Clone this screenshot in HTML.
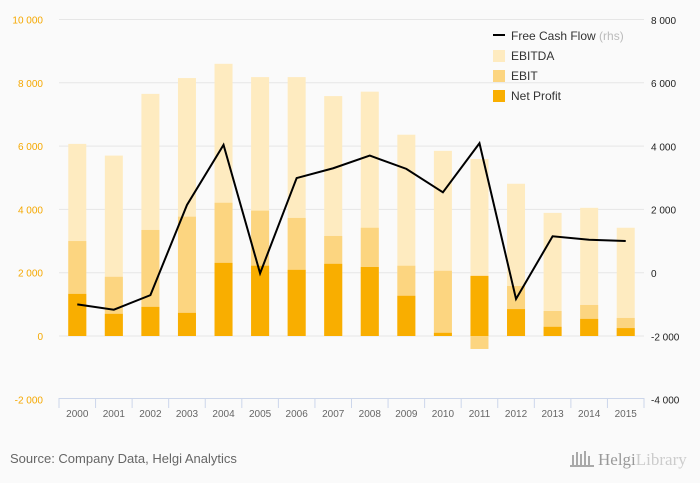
<!DOCTYPE html>
<html><head><meta charset="utf-8"><style>
body{margin:0;background:#fafafa;}
svg{display:block;font-family:"Liberation Sans",sans-serif;}
</style></head><body>
<svg id="chart" width="700" height="483" xmlns="http://www.w3.org/2000/svg">
<rect width="700" height="483" fill="#fafafa"/>
<g id="grid"></g><g id="bars"></g><g id="line"></g><g id="axes"></g>
<g>
 <line x1="493" y1="35" x2="505" y2="35" stroke="#000" stroke-width="2"/>
 <text x="511" y="40" font-size="12" fill="#333">Free Cash Flow <tspan fill="#bbb">(rhs)</tspan></text>
 <rect x="493" y="50" width="12" height="12" fill="#feebc0"/>
 <text x="511" y="60" font-size="12" fill="#333">EBITDA</text>
 <rect x="493" y="70" width="12" height="12" fill="#fcd580"/>
 <text x="511" y="80" font-size="12" fill="#333">EBIT</text>
 <rect x="493" y="90" width="12" height="12" fill="#f9ae00"/>
 <text x="511" y="100" font-size="12" fill="#333">Net Profit</text>
</g>
<text x="10" y="463" font-size="13" fill="#666">Source: Company Data, Helgi Analytics</text>
<text x="598" y="465" font-size="17" font-family="Liberation Serif,serif" fill="#999">Helgi<tspan fill="#ccc">Library</tspan></text>
<g fill="#aaa"><rect x="572" y="455" width="2" height="10"/><rect x="576" y="452" width="2" height="13"/><rect x="580" y="454" width="2" height="11"/><rect x="584" y="451" width="2" height="14"/><rect x="588" y="456" width="2" height="9"/><rect x="570" y="465" width="24" height="2"/></g>
</svg>
<script>
const years=["2000","2001","2002","2003","2004","2005","2006","2007","2008","2009","2010","2011","2012","2013","2014","2015"];
const ebitda=[6070,5700,7650,8150,8600,8180,8180,7580,7720,6360,5850,5590,4810,3890,4050,3420];
const ebit=[3000,1870,3350,3770,4210,3960,3730,3160,3420,2220,2060,-410,1580,790,980,570];
const netProfit=[1330,700,920,730,2310,2220,2090,2280,2180,1270,100,1900,850,290,540,250];
const fcf=[-990,-1160,-700,2150,4050,-10,3000,3310,3710,3290,2550,4100,-820,1160,1050,1010];
const leftTicks=[-2000,0,2000,4000,6000,8000,10000];
const rightTicks=[-4000,-2000,0,2000,4000,6000,8000];
const NS="http://www.w3.org/2000/svg";
const X0=59,X1=644,band=(X1-X0)/years.length;
const yL=v=>336-v*(316.5/10000);
const yR=v=>273-v*(316.5/10000);
const xC=i=>X0+band*(i+0.5);
function mk(tag,attrs,parent){const e=document.createElementNS(NS,tag);for(const k in attrs)e.setAttribute(k,attrs[k]);document.getElementById(parent).appendChild(e);return e;}
const fmt=v=>{const s=Math.abs(v).toString();const t=s.length>3?s.slice(0,-3)+" "+s.slice(-3):s;return (v<0?"-":"")+t;};
leftTicks.forEach(v=>{
 if(v>-2000){const g=mk("line",{x1:X0,x2:X1,y1:yL(v),y2:yL(v),stroke:"#e6e6e6","stroke-width":1},"grid");
 
 }
 const t=mk("text",{x:43,y:yL(v)+4,"text-anchor":"end","font-size":10,fill:"#f5a800"},"axes");t.textContent=fmt(v);
 
 
});
rightTicks.forEach(v=>{
 const t=mk("text",{x:651,y:yR(v)+4,"font-size":10,fill:"#222"},"axes");t.textContent=fmt(v);
 
 
});
const ax=mk("line",{x1:X0,x2:X1,y1:398.5,y2:398.5,stroke:"#ccd6eb"},"axes");


for(let i=0;i<=years.length;i++){
 const tk=mk("line",{x1:X0+band*i,x2:X0+band*i,y1:398,y2:408,stroke:"#ccd6eb"},"axes");
 
 
}
years.forEach((y,i)=>{
 const t=mk("text",{x:xC(i),y:417,"text-anchor":"middle","font-size":10,fill:"#666"},"axes");t.textContent=y;
 
 
 const bw=18,bx=xC(i)-bw/2;
 [[ebitda,"#feebc0","bar-ebitda"],[ebit,"#fcd580","bar-ebit"],[netProfit,"#f9ae00","bar-net-profit"]].forEach(([arr,c,n])=>{
  const v=arr[i];const y0=yL(0),y1=yL(v);
  const r=mk("rect",{x:bx,y:Math.min(y0,y1),width:bw,height:Math.abs(y1-y0),fill:c},"bars");
  
  
 });
});
const pl=mk("polyline",{points:fcf.map((v,i)=>xC(i)+","+yR(v)).join(" "),fill:"none",stroke:"#000","stroke-width":2,"stroke-linejoin":"miter"},"line");


</script>
</body></html>
